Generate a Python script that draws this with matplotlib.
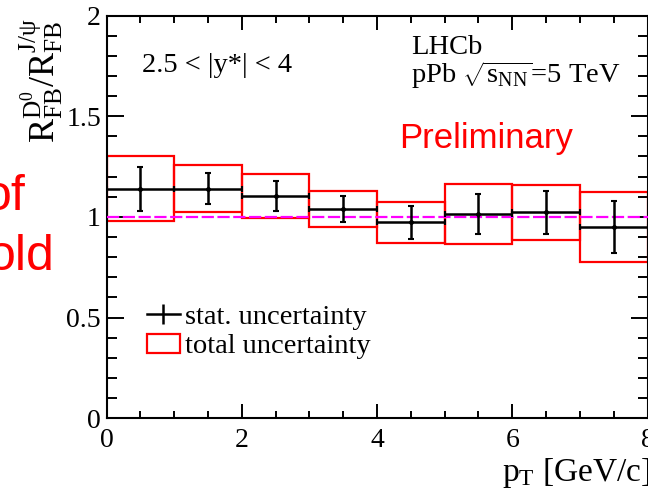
import matplotlib
matplotlib.use("Agg")
import matplotlib.pyplot as plt
from matplotlib.ticker import MultipleLocator, FuncFormatter
from matplotlib.lines import Line2D
from matplotlib.patches import Patch

plt.rcParams['font.family'] = ['Liberation Serif', 'DejaVu Serif']
plt.rcParams['mathtext.fontset'] = 'custom'
plt.rcParams['mathtext.rm'] = 'Liberation Serif'
plt.rcParams['mathtext.it'] = 'Liberation Serif:italic'
plt.rcParams['mathtext.bf'] = 'Liberation Serif:bold'

# pT bins [GeV/c] and the D0 / J/psi forward-backward ratio
bin_lo = [0, 1, 2, 3, 4, 5, 6, 7]
bin_hi = [1, 2, 3, 4, 5, 6, 7, 8]
ratio = [1.140, 1.140, 1.103, 1.040, 0.973, 1.014, 1.022, 0.951]
stat_err = [0.110, 0.078, 0.075, 0.065, 0.082, 0.100, 0.108, 0.128]
total_err = [0.160, 0.118, 0.110, 0.090, 0.101, 0.147, 0.135, 0.174]

y_ticks = [0, 0.5, 1, 1.5, 2]
x_ticks = [0, 2, 4, 6, 8]

centers = [(a + b) / 2 for a, b in zip(bin_lo, bin_hi)]
widths = [b - a for a, b in zip(bin_lo, bin_hi)]
half_w = [w / 2 for w in widths]

W, H = 648, 496
fig = plt.figure(figsize=(W / 100, H / 100), dpi=100)
ax = fig.add_axes([106.5 / W, (H - 418.3) / H, 541.0 / W, (418.3 - 15.5) / H])

# total uncertainty boxes
ax.bar(centers, [2 * t for t in total_err], width=widths,
       bottom=[r - t for r, t in zip(ratio, total_err)],
       fill=False, edgecolor='#ff0000', linewidth=1.6, zorder=2)

# reference line at unity
ax.axhline(1.0, color='#ff00ff', linewidth=1.6, dashes=(5.5, 1.6), zorder=3)

# central values with statistical uncertainty
ax.errorbar(centers, ratio, xerr=half_w, yerr=stat_err, fmt='o', ms=2.5,
            color='black', ecolor='black', elinewidth=1.8, capsize=2.2,
            capthick=1.5, zorder=4)

ax.set_xlim(0, 8)
ax.set_ylim(0, 2)
ax.set_xticks(x_ticks)
ax.set_yticks(y_ticks)
ax.xaxis.set_minor_locator(MultipleLocator(0.5))
ax.yaxis.set_minor_locator(MultipleLocator(0.1))
ax.yaxis.set_major_formatter(FuncFormatter(lambda v, p: f'{v:g}'))
ax.xaxis.set_major_formatter(FuncFormatter(lambda v, p: f'{v:g}'))
ax.tick_params(axis='both', which='both', direction='in', top=True, right=True,
               width=1.4, labelsize=20, colors='black')
ax.tick_params(axis='x', which='major', length=10, pad=7)
ax.tick_params(axis='x', which='minor', length=5)
ax.tick_params(axis='y', which='major', length=12, pad=4)
ax.tick_params(axis='y', which='minor', length=7)
for s in ax.spines.values():
    s.set_linewidth(1.5)

# annotations
ax.text(0.52, 1.721, r'2.5 < |y*| < 4', fontsize=20.5, ha='left', va='baseline')
ax.text(4.50, 1.810, 'LHCb', fontsize=20.5, ha='left', va='baseline')
ax.text(4.50, 1.663, r'pPb $\sqrt{\mathrm{s_{NN}}}$=5 TeV', fontsize=20.5,
        ha='left', va='baseline')
ax.text(4.33, 1.341, 'Preliminary', fontsize=25, color='#ff0000',
        family='Liberation Sans', ha='left', va='baseline')

# legend
handles = [Line2D([], [], color='black', lw=1.8, marker='|', ms=14, mew=1.8),
           Patch(facecolor='none', edgecolor='#ff0000', linewidth=1.6)]
ax.legend(handles, ['stat. uncertainty', 'total uncertainty'],
          loc='upper left', bbox_to_anchor=(0.0747, 0.282), frameon=False,
          fontsize=20.5, handlelength=1.15, handleheight=0.65,
          handletextpad=0.2, labelspacing=0.12, borderpad=0, borderaxespad=0)

# axis titles
fig.text(42 / W, 1 - 18 / H,
         r'$\mathrm{R}^{\mathrm{D^{0}}}_{\mathrm{FB}}/\mathrm{R}^{\mathrm{J/\psi}}_{\mathrm{FB}}$',
         rotation=90, fontsize=26, ha='center', va='top')
fig.text(651 / W, 1 - 481 / H, r'p$_{\mathrm{T}}$ [GeV/c]', fontsize=24,
         ha='right', va='baseline')

# slide text continuing from the left
fig.text(26 / W, 1 - 210 / H, 'of', fontsize=36, color='#ff0000',
         family='Liberation Sans', ha='right', va='baseline')
fig.text(55 / W, 1 - 270 / H, 'old', fontsize=36, color='#ff0000',
         family='Liberation Sans', ha='right', va='baseline')

fig.savefig('out.png', dpi=100)
